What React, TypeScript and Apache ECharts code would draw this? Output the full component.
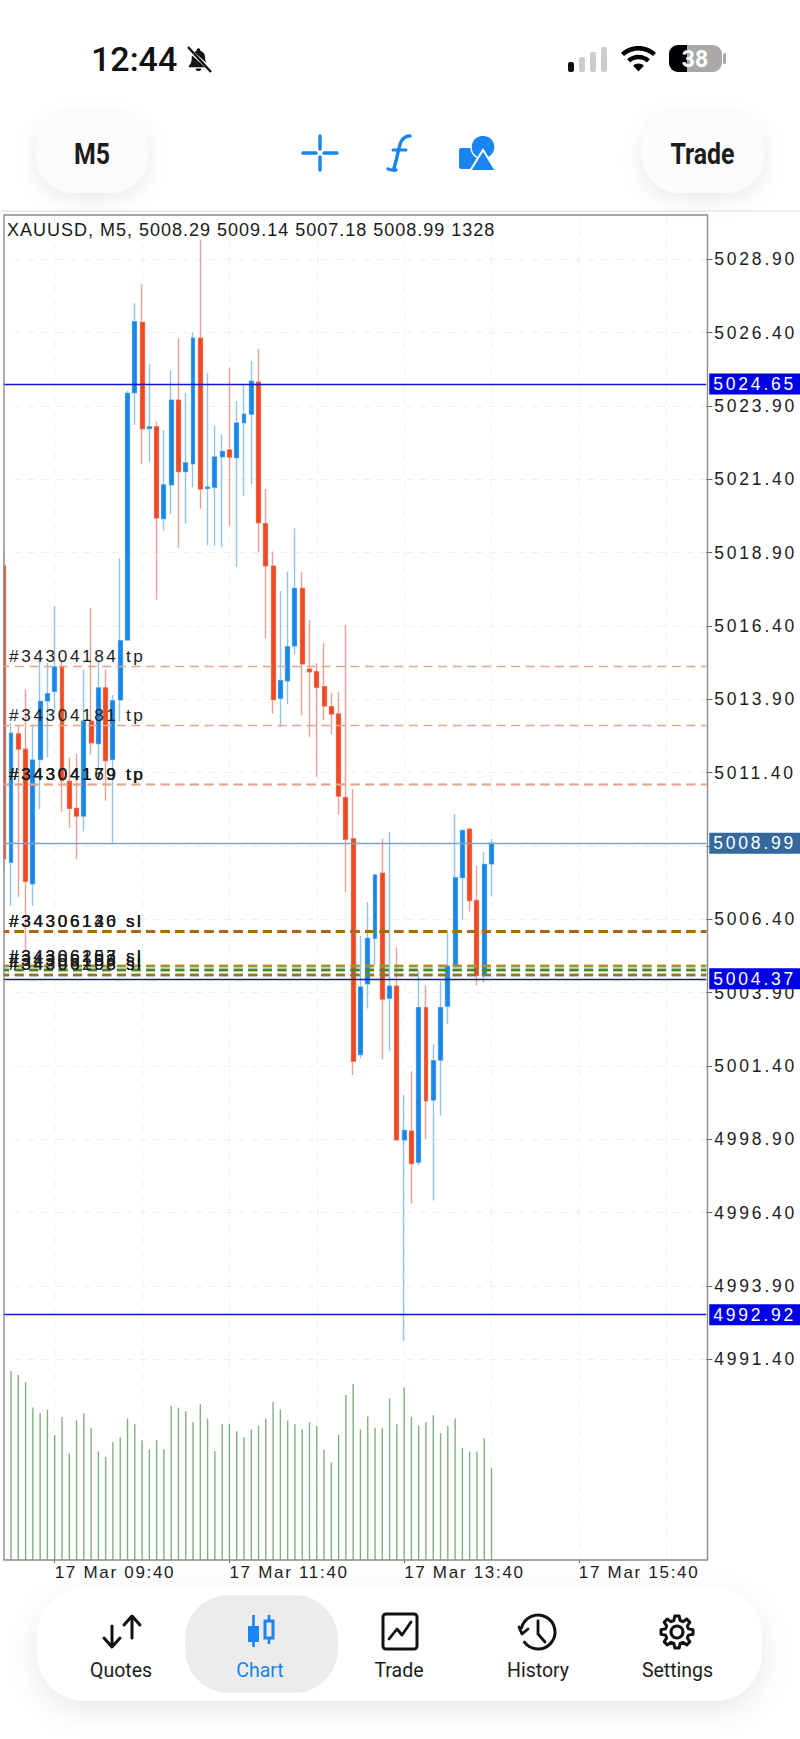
import React, { useEffect, useRef } from "react";
import * as echarts from "echarts";

// 17 Mar, one M5 bar per slot. First slot is the half visible candle at the left edge.
const times = [
  "09:05","09:10","09:15","09:20","09:25","09:30","09:35","09:40","09:45","09:50","09:55","10:00",
  "10:05","10:10","10:15","10:20","10:25","10:30","10:35","10:40","10:45","10:50","10:55","11:00",
  "11:05","11:10","11:15","11:20","11:25","11:30","11:35","11:40","11:45","11:50","11:55","12:00",
  "12:05","12:10","12:15","12:20","12:25","12:30","12:35","12:40","12:45","12:50","12:55","13:00",
  "13:05","13:10","13:15","13:20","13:25","13:30","13:35","13:40","13:45","13:50","13:55","14:00",
  "14:05","14:10","14:15","14:20","14:25","14:30","14:35","14:40","14:45","14:50","14:55","15:00",
  "15:05","15:10","15:15","15:20","15:25","15:30","15:35","15:40","15:45","15:50","15:55","16:00",
  "16:05","16:10","16:15","16:20","16:25","16:30","16:35","16:40","16:45","16:50","16:55","17:00",
  "17:05"
];
const categories = times.map((t) => "17 Mar " + t);

// open, close, low, high
const candles = [
  [5018.44, 5008.46, 5008.0, 5019.0],
  [5008.34, 5012.74, 5006.86, 5013.09],
  [5012.72, 5012.2, 5007.17, 5013.02],
  [5012.2, 5007.7, 5005.35, 5014.24],
  [5007.61, 5011.83, 5006.86, 5012.99],
  [5011.85, 5013.83, 5010.15, 5015.24],
  [5013.85, 5014.09, 5011.92, 5015.14],
  [5014.17, 5015.0, 5013.47, 5017.08],
  [5015.0, 5011.13, 5010.07, 5015.24],
  [5011.1, 5010.18, 5009.52, 5011.92],
  [5010.18, 5009.92, 5008.45, 5012.04],
  [5009.92, 5013.15, 5009.39, 5014.92],
  [5013.15, 5012.42, 5012.0, 5017.0],
  [5012.39, 5014.29, 5011.49, 5015.24],
  [5014.29, 5011.81, 5010.44, 5014.92],
  [5011.85, 5013.85, 5009.0, 5014.05],
  [5013.88, 5015.9, 5013.14, 5018.71],
  [5015.92, 5024.33, 5015.9, 5024.42],
  [5024.35, 5026.77, 5023.25, 5027.4],
  [5026.75, 5023.13, 5021.91, 5028.05],
  [5023.13, 5023.19, 5021.98, 5025.32],
  [5023.19, 5020.08, 5017.29, 5023.36],
  [5020.06, 5021.21, 5019.66, 5023.08],
  [5021.21, 5024.1, 5020.22, 5025.13],
  [5024.1, 5021.66, 5019.07, 5026.21],
  [5021.66, 5021.96, 5019.89, 5024.35],
  [5021.93, 5026.21, 5021.13, 5026.41],
  [5026.21, 5021.07, 5020.4, 5029.56],
  [5021.09, 5021.13, 5019.14, 5025.03],
  [5021.13, 5022.16, 5019.13, 5023.22],
  [5022.17, 5022.35, 5019.08, 5022.93],
  [5022.4, 5022.16, 5019.82, 5025.21],
  [5022.14, 5023.32, 5018.42, 5024.07],
  [5023.33, 5023.62, 5020.83, 5024.61],
  [5023.62, 5024.74, 5021.23, 5025.44],
  [5024.71, 5019.92, 5018.93, 5025.85],
  [5019.89, 5018.45, 5015.98, 5021.07],
  [5018.44, 5013.89, 5013.42, 5018.94],
  [5013.93, 5014.54, 5012.95, 5017.59],
  [5014.53, 5015.69, 5013.74, 5018.26],
  [5015.72, 5017.68, 5015.43, 5019.73],
  [5017.68, 5015.11, 5013.36, 5018.25],
  [5014.93, 5014.84, 5012.62, 5016.6],
  [5014.84, 5014.31, 5011.26, 5015.13],
  [5014.33, 5013.67, 5013.19, 5015.81],
  [5013.65, 5013.4, 5012.72, 5014.12],
  [5013.4, 5010.6, 5009.96, 5014.16],
  [5010.55, 5009.13, 5007.34, 5016.43],
  [5009.15, 5001.56, 5001.09, 5010.84],
  [5001.79, 5004.09, 5001.66, 5005.83],
  [5004.2, 5005.75, 5003.36, 5006.99],
  [5005.75, 5007.91, 5004.84, 5007.93],
  [5007.97, 5003.68, 5001.63, 5009.15],
  [5003.71, 5004.12, 5001.9, 5009.38],
  [5004.12, 4998.88, 4998.88, 5005.45],
  [4998.88, 4999.2, 4992.04, 5000.43],
  [4999.18, 4998.07, 4996.71, 5001.22],
  [4998.12, 5003.39, 4998.01, 5004.65],
  [5003.39, 5000.21, 4998.91, 5004.15],
  [5000.24, 5001.58, 4996.81, 5002.13],
  [5001.6, 5003.39, 4999.71, 5004.3],
  [5003.44, 5004.8, 5002.82, 5005.98],
  [5004.84, 5007.82, 5004.84, 5009.98],
  [5007.82, 5009.43, 5006.38, 5009.43],
  [5009.47, 5007.04, 5006.67, 5009.51],
  [5007.04, 5004.49, 5004.14, 5008.22],
  [5004.5, 5008.27, 5004.24, 5008.69],
  [5008.29, 5008.99, 5007.18, 5009.14]
];

const volumes = [
  2719, 2666, 2561, 2196, 2119, 2167, 1798, 2062, 1539, 2009, 2115, 1904, 1563, 1486, 1697, 1769, 2038,
  1956, 1726, 1592, 1726, 1597, 2220, 2196, 2143, 1985, 2249, 2038, 1568, 1956, 1961, 1856, 1769, 1880,
  1932, 2038, 2273, 2167, 2009, 1956, 1880, 1985, 1932, 1592, 1405, 1803, 2378, 2537, 1880, 2067, 1904,
  1904, 2326, 1956, 2484, 2062, 1932, 1985, 2086, 1827, 1932, 2038, 1616, 1563, 1563, 1750, 1328
];

const priceTicks = [
  4991.4, 4993.9, 4996.4, 4998.9, 5001.4, 5003.9, 5006.4, 5008.9, 5011.4, 5013.9, 5016.4, 5018.9, 5021.4,
  5023.9, 5026.4, 5028.9
];

const tpOrders = [
  { name: "#34304184 tp", price: 5015.01 },
  { name: "#34304181 tp", price: 5013.01 },
  { name: "#34304169 tp", price: 5011.0 },
  { name: "#34304179 tp", price: 5011.0 },
  { name: "#34304179 tp", price: 5011.0 }
];
const slOrders = [
  { name: "#34306130 sl", price: 5005.98, color: "#a8690f" },
  { name: "#34306146 sl", price: 5005.98, color: "#a8690f" },
  { name: "#34306120 sl", price: 5005.98, color: "#a8690f" },
  { name: "#34306157 sl", price: 5004.8, color: "#a8902e" },
  { name: "#34306203 sl", price: 5004.8, color: "#a8902e" },
  { name: "#34306198 sl", price: 5004.67, color: "#3f8a2a" },
  { name: "#34306153 sl", price: 5004.67, color: "#3f8a2a" },
  { name: "#34306208 sl", price: 5004.52, color: "#8a7a20" },
  { name: "#34306193 sl", price: 5004.52, color: "#8a7a20" }
];
const priceLines = [
  { price: 5024.65, color: "#1414c8", tag: "#0000e6" },
  { price: 5008.99, color: "#7fa3c4", tag: "#33699c" },
  { price: 5004.37, color: "#1414c8", tag: "#0000e6" },
  { price: 4992.92, color: "#1414c8", tag: "#0000e6" }
];

const header = "XAUUSD, M5, 5008.29 5009.14 5007.18 5008.99 1328";
const navItems = ["Quotes", "Chart", "Trade", "History", "Settings"];

const BLUE = "#1787ea";
const RED = "#f04a24";
const ACCENT = "#1a84f0";

const bellPath =
  "M12 2a1.6 1.6 0 0 0-1.6 1.6v.6C7.6 5 6 7.4 6 10.4c0 3.6-.8 5.6-2.4 7.2-.5.5-.2 1.4.6 1.4h15.6c.8 0 1.1-.9.6-1.4C18.8 16 18 14 18 10.4c0-3-1.6-5.4-4.4-6.2v-.6A1.6 1.6 0 0 0 12 2zM9.6 20a2.4 2.4 0 0 0 4.8 0z";
const gearPath =
  "M14.8 1h4.4l.9 4.5 2.9 1.2 3.8-2.6 3.1 3.1-2.6 3.8 1.2 2.9 4.5.9v4.4l-4.5.9-1.2 2.9 2.6 3.8-3.1 3.1-3.8-2.6-2.9 1.2-.9 4.5h-4.4l-.9-4.5-2.9-1.2-3.8 2.6-3.1-3.1 2.6-3.8-1.2-2.9L1 19.2v-4.4l4.5-.9 1.2-2.9-2.6-3.8 3.1-3.1 3.8 2.6 2.9-1.2z";
const wifiPath =
  "M17.5 0C10.8 0 4.7 2.6 0 6.9l3 3.2C6.9 6.6 11.9 4.4 17.5 4.4s10.6 2.2 14.5 5.7l3-3.2C30.3 2.6 24.2 0 17.5 0zm0 8.8c-4.3 0-8.3 1.7-11.4 4.4l3.1 3.3c2.2-2 5.1-3.2 8.3-3.2s6.1 1.2 8.3 3.2l3.1-3.3c-3.1-2.7-7.1-4.4-11.4-4.4zm0 8.8c-2.1 0-4 .8-5.4 2.1l5.4 5.8 5.4-5.8c-1.4-1.3-3.3-2.1-5.4-2.1z";
echarts.graphic.registerShape("bell", echarts.graphic.extendPath(bellPath, {}));
echarts.graphic.registerShape("gear", echarts.graphic.extendPath(gearPath, {}));
echarts.graphic.registerShape("wifi", echarts.graphic.extendPath(wifiPath, {}));

const dashedGrid = { color: "#f0f0f0", width: 1, type: [7, 7] as any };
const bodyOnly = candles.map(([o, c]) => [o, c, Math.min(o, c), Math.max(o, c)]);

// phone chrome around the chart, none of this is data
const uiFont = "Roboto, sans-serif";
const stroke = (color: string, w: number) => ({ stroke: color, lineWidth: w, fill: "none", lineCap: "round" as any, lineJoin: "round" as any });
const chrome: any[] = [
  { type: "text", x: 91, y: 59, style: { text: "12:44", font: "500 34px " + uiFont, fill: "#111", textVerticalAlign: "middle" } },
  { type: "bell", x: 185, y: 46, scaleX: 1.12, scaleY: 1.12, style: { fill: "#111" } },
  { type: "line", shape: { x1: 187, y1: 48, x2: 212, y2: 71 }, style: { stroke: "#fff", lineWidth: 4 } },
  { type: "line", shape: { x1: 188, y1: 47, x2: 211, y2: 72 }, style: { stroke: "#111", lineWidth: 2.4 } },

  { type: "rect", shape: { x: 568, y: 62, width: 6, height: 10, r: 2 }, style: { fill: "#111" } },
  { type: "rect", shape: { x: 579, y: 57, width: 6, height: 15, r: 2 }, style: { fill: "#ccc" } },
  { type: "rect", shape: { x: 590, y: 52, width: 6, height: 20, r: 2 }, style: { fill: "#ccc" } },
  { type: "rect", shape: { x: 601, y: 47, width: 6, height: 25, r: 2 }, style: { fill: "#ccc" } },
  { type: "wifi", x: 621, y: 46, style: { fill: "#000" } },
  { type: "rect", shape: { x: 669, y: 45, width: 53, height: 27, r: 9 }, style: { fill: "#a9a9a9" } },
  { type: "rect", shape: { x: 669, y: 45, width: 18, height: 27, r: [9, 0, 0, 9] }, style: { fill: "#000" } },
  { type: "rect", shape: { x: 723, y: 53, width: 3, height: 11, r: 1.5 }, style: { fill: "#a9a9a9" } },
  { type: "text", x: 695, y: 59, style: { text: "38", font: "700 23px " + uiFont, fill: "#fff", textAlign: "center", textVerticalAlign: "middle" } },

  { type: "rect", shape: { x: 36, y: 112, width: 112, height: 81, r: 38 }, style: { fill: "#fcfcfc", shadowBlur: 22, shadowColor: "rgba(0,0,0,0.09)", shadowOffsetY: 6 } },
  { type: "text", x: 92, y: 154, scaleX: 0.86, style: { text: "M5", font: "700 29px " + uiFont, fill: "#1c1c1c", textAlign: "center", textVerticalAlign: "middle" } },
  { type: "rect", shape: { x: 642, y: 112, width: 122, height: 81, r: 38 }, style: { fill: "#fcfcfc", shadowBlur: 22, shadowColor: "rgba(0,0,0,0.09)", shadowOffsetY: 6 } },
  { type: "text", x: 702.5, y: 154, scaleX: 0.86, style: { text: "Trade", font: "700 29px " + uiFont, fill: "#1c1c1c", textAlign: "center", textVerticalAlign: "middle" } },

  // crosshair
  { type: "line", shape: { x1: 303, y1: 153, x2: 316, y2: 153 }, style: stroke(ACCENT, 3.4) },
  { type: "line", shape: { x1: 324, y1: 153, x2: 337, y2: 153 }, style: stroke(ACCENT, 3.4) },
  { type: "line", shape: { x1: 320, y1: 136, x2: 320, y2: 149 }, style: stroke(ACCENT, 3.4) },
  { type: "line", shape: { x1: 320, y1: 157, x2: 320, y2: 170 }, style: stroke(ACCENT, 3.4) },
  // f(x)
  { type: "bezierCurve", shape: { x1: 388, y1: 169, x2: 396, y2: 170, cpx1: 394, cpy1: 171, cpx2: 396, cpy2: 170 }, style: stroke(ACCENT, 3.4) },
  { type: "bezierCurve", shape: { x1: 394, y1: 168, x2: 410, y2: 136, cpx1: 400, cpy1: 150, cpx2: 398, cpy2: 136 }, style: stroke(ACCENT, 3.4) },
  { type: "line", shape: { x1: 393, y1: 150, x2: 406, y2: 150 }, style: stroke(ACCENT, 3) },
  // shapes
  { type: "rect", shape: { x: 459, y: 148, width: 19, height: 21, r: 2 }, style: { fill: ACCENT } },
  { type: "circle", shape: { cx: 483, cy: 147, r: 12 }, style: { fill: ACCENT, stroke: "#fff", lineWidth: 1.5 } },
  { type: "polygon", shape: { points: [[483, 150], [496, 171], [470, 171]] }, style: { fill: ACCENT, stroke: "#fff", lineWidth: 2 } },

  { type: "line", shape: { x1: 0, y1: 211, x2: 800, y2: 211 }, style: { stroke: "#dcdcdc", lineWidth: 1 } },

  // bottom bar
  { type: "rect", shape: { x: 37, y: 1588, width: 725, height: 113, r: 48 }, style: { fill: "#fff", shadowBlur: 30, shadowColor: "rgba(0,0,0,0.09)", shadowOffsetY: 10 } },
  { type: "rect", shape: { x: 185, y: 1595, width: 153, height: 98, r: 44 }, style: { fill: "#ececec" } },
  // quotes arrows
  { type: "polyline", shape: { points: [[112, 1626], [112, 1646]] }, style: stroke("#111", 3) },
  { type: "polyline", shape: { points: [[104, 1638], [112, 1647], [120, 1638]] }, style: stroke("#111", 3) },
  { type: "polyline", shape: { points: [[132, 1617], [132, 1638]] }, style: stroke("#111", 3) },
  { type: "polyline", shape: { points: [[124, 1625], [132, 1616], [140, 1625]] }, style: stroke("#111", 3) },
  // chart icon
  { type: "line", shape: { x1: 253.5, y1: 1615, x2: 253.5, y2: 1647 }, style: { stroke: ACCENT, lineWidth: 2.6 } },
  { type: "rect", shape: { x: 248, y: 1626, width: 11, height: 16 }, style: { fill: ACCENT } },
  { type: "line", shape: { x1: 269, y1: 1615, x2: 269, y2: 1644 }, style: { stroke: ACCENT, lineWidth: 2.6 } },
  { type: "rect", shape: { x: 265, y: 1621, width: 8, height: 17 }, style: { fill: "#ececec", stroke: ACCENT, lineWidth: 3 } },
  // trade icon
  { type: "rect", shape: { x: 383, y: 1614, width: 34, height: 35, r: 3 }, style: { fill: "#fff", stroke: "#111", lineWidth: 3 } },
  { type: "polyline", shape: { points: [[389, 1639], [397, 1629], [402, 1635], [411, 1622]] }, style: stroke("#111", 2.8) },
  // history icon
  { type: "arc", shape: { cx: 538, cy: 1632, r: 17, startAngle: -2.9, endAngle: 2.5 }, style: stroke("#111", 3) },
  { type: "polyline", shape: { points: [[519, 1627], [522, 1634], [528, 1629]] }, style: stroke("#111", 2.8) },
  { type: "polyline", shape: { points: [[538, 1621], [538, 1634], [545, 1642]] }, style: stroke("#111", 2.8) },
  // settings icon
  { type: "gear", x: 660, y: 1615, style: { fill: "none", stroke: "#111", lineWidth: 3, lineJoin: "round" } },
  { type: "circle", shape: { cx: 677, cy: 1632, r: 6 }, style: stroke("#111", 3) }
];
const navX = [121, 260, 399, 538, 677.5];
navItems.forEach((label, i) => {
  chrome.push({
    type: "text",
    x: navX[i],
    y: 1670,
    style: { text: label, font: "400 19.5px " + uiFont, fill: i === 1 ? ACCENT : "#1c1c1c", textAlign: "center", textVerticalAlign: "middle" }
  });
});
chrome.push(
  // covers what falls left of the frame, then the frame itself
  { type: "rect", z: 20, shape: { x: 0, y: 212, width: 3.4, height: 1352 }, style: { fill: "#fff" } },
  { type: "rect", z: 21, shape: { x: 4, y: 215, width: 703.5, height: 1345 }, style: { fill: "none", stroke: "#8a8a8a", lineWidth: 1.4 } },
  { type: "text", z: 22, x: 7, y: 230, style: { text: header, font: "18px 'Liberation Sans'", fill: "#1a1a1a", textVerticalAlign: "middle" } }
);

const orderLine = (name: string, price: number, color: string, width: number) => ({
  yAxis: price,
  lineStyle: { color, width, type: [9, 5.6] as any },
  label: {
    show: true,
    position: "insideStartTop",
    formatter: name,
    distance: 2,
    padding: [0, 0, 0, 7],
    fontFamily: "'Liberation Sans'",
    fontSize: 17.2,
    color: "#1c1c1c"
  }
});

const App = () => {
  const ref = useRef<HTMLDivElement>(null);

  useEffect(() => {
    const chart = echarts.init(ref.current, null, { renderer: "svg" });
    chart.setOption({
      animation: false,
      backgroundColor: "#fff",
      graphic: { elements: chrome },
      grid: [
        { left: 0.1, top: 215, width: 706.16, height: 1144.3 },
        { left: 0.1, top: 1359.3, width: 706.16, height: 200.7 }
      ],
      xAxis: [
        {
          type: "category",
          data: categories,
          gridIndex: 0,
          axisLine: { show: false },
          axisTick: { show: false },
          axisLabel: { show: false },
          splitLine: { show: true, alignWithLabel: true, lineStyle: dashedGrid, interval: (i: number) => (i - 7) % 12 === 0 }
        },
        {
          type: "category",
          data: categories,
          gridIndex: 1,
          axisLine: { show: false },
          axisTick: { show: true, length: 3, alignWithLabel: true, lineStyle: { color: "#666" }, interval: (i: number) => (i - 7) % 24 === 0 },
          axisLabel: {
            interval: (i: number) => (i - 7) % 24 === 0,
            align: "left",
            margin: 4,
            fontFamily: "'Liberation Sans'",
            fontSize: 17,
            color: "#1c1c1c"
          },
          splitLine: { show: true, alignWithLabel: true, lineStyle: dashedGrid, interval: (i: number) => (i - 7) % 12 === 0 }
        }
      ],
      yAxis: [
        {
          type: "value",
          gridIndex: 0,
          position: "right",
          min: 4991.4,
          max: 5030.41,
          axisLine: { show: false },
          axisTick: { show: true, length: 6, customValues: priceTicks, lineStyle: { color: "#666" } },
          axisLabel: {
            customValues: priceTicks,
            margin: 8,
            formatter: (v: number) => v.toFixed(2),
            fontFamily: "'Liberation Sans'",
            fontSize: 17.5,
            color: "#1c1c1c"
          },
          splitLine: { show: true, lineStyle: dashedGrid }
        },
        {
          type: "value",
          gridIndex: 1,
          min: 0,
          max: 2892,
          show: false
        }
      ],
      series: [
        {
          type: "line",
          data: [],
          z: 1,
          silent: true,
          markLine: {
            silent: true,
            symbol: "none",
            animation: false,
            data: [
              ...tpOrders.map((o) => orderLine(o.name, o.price, "#e3a58c", 1.4)),
              ...slOrders.map((o) => orderLine(o.name, o.price, o.color, o.price > 5005 ? 3 : 2.4))
            ]
          }
        },
        {
          // wicks, paler than the bodies
          type: "candlestick",
          data: candles,
          z: 2,
          barWidth: 4.4,
          itemStyle: { color: "#93c3e8", color0: "#ec9f93", borderColor: "#93c3e8", borderColor0: "#ec9f93", borderWidth: 1.4 }
        },
        {
          type: "candlestick",
          data: bodyOnly,
          z: 3,
          barWidth: 4.4,
          itemStyle: { color: BLUE, color0: RED, borderColor: BLUE, borderColor0: RED, borderWidth: 0.4 }
        },
        {
          type: "line",
          data: [],
          z: 4,
          silent: true,
          markLine: {
            silent: true,
            symbol: "none",
            animation: false,
            data: priceLines.map((l) => ({
              yAxis: l.price,
              lineStyle: { color: l.color, width: 1.3, type: "solid" },
              label: {
                show: true,
                position: "end",
                distance: 3,
                formatter: l.price.toFixed(2),
                backgroundColor: l.tag,
                padding: [2, 31, 2, 4],
                lineHeight: 17,
                fontFamily: "'Liberation Sans'",
                fontSize: 17.5,
                color: "#fff"
              }
            }))
          }
        },
        {
          type: "bar",
          data: volumes.map((v, i) => [i + 1, v]),
          xAxisIndex: 1,
          yAxisIndex: 1,
          barWidth: 1.4,
          itemStyle: { color: "#7fb07f" }
        }
      ]
    });
    return () => chart.dispose();
  }, []);

  return (
    <>
      <style>{`
        text[style*="17.2px"] { letter-spacing: 2.6px; }
        text[style*="17px"] { letter-spacing: 1.7px; }
        text[style*="17.5px"] { letter-spacing: 2.8px; }
        text[style*="18px"] { letter-spacing: 1px; }
      `}</style>
      <div ref={ref} style={{ position: "absolute", left: 0, top: 0, width: 800, height: 1739 }} />
    </>
  );
};

export default App;
